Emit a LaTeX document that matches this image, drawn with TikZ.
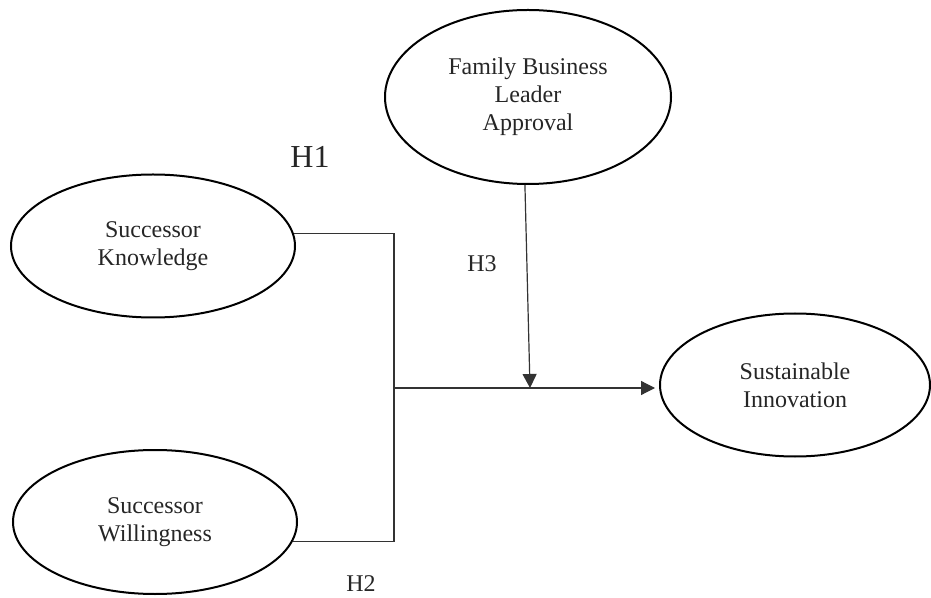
\documentclass[tikz,border=0pt]{standalone}
\usepackage{fontspec}
\setmainfont{Liberation Serif}
\usetikzlibrary{arrows.meta,shapes}

\tikzset{
    construct/.style={draw=black,ellipse,line width=1pt,inner sep=0pt,align=center,
        text=black!85,font=\fontsize{12}{14}\selectfont},
    hyp/.style={text=black!85,font=\fontsize{12}{14}\selectfont},
    link/.style={draw=black!80,line width=0.6pt},
    tip/.style={-{Triangle[length=7pt,width=7pt]}}
}

\begin{document}
\begin{tikzpicture}[x=0.5pt,y=-0.5pt]
    % frame of the picture
    \useasboundingbox (0,0) rectangle (931,598);

    % the four constructs
    \node[construct,minimum width=142pt,minimum height=71.5pt] (know) at (153,246) {Successor\\Knowledge};
    \node[construct,minimum width=142pt,minimum height=72pt] (will) at (155,522) {Successor\\Willingness};
    \node[construct,minimum width=143pt,minimum height=87pt] (fbl) at (528,97) {Family Business\\Leader\\Approval};
    \node[construct,minimum width=135pt,minimum height=71.5pt] (si) at (795,385) {Sustainable\\Innovation};

    % junction on the main path, end of the thick part, moderator point
    \coordinate (jn) at (394,388);
    \coordinate (mid) at (615,388);
    \coordinate (mod) at (530,388);

    % bracket from the two successor constructs
    \draw[link] (know.5) -| (jn);
    \draw[link] (will.-8) -| (jn);

    % main path to sustainable innovation
    \draw[link,line width=1pt] (jn) -- (mid);
    \draw[link,tip,shorten >=2] (mid) -- (si.west |- mid);

    % moderation by the leader approval
    \draw[link,tip] (fbl.-92) -- (mod);

    % hypotheses
    \node[hyp,font=\fontsize{16}{19}\selectfont] (h1) at (310,157) {H1};
    \node[hyp] (h3) at (482,264) {H3};
    \node[hyp] (h2) at (361,584) {H2};
\end{tikzpicture}
\end{document}
